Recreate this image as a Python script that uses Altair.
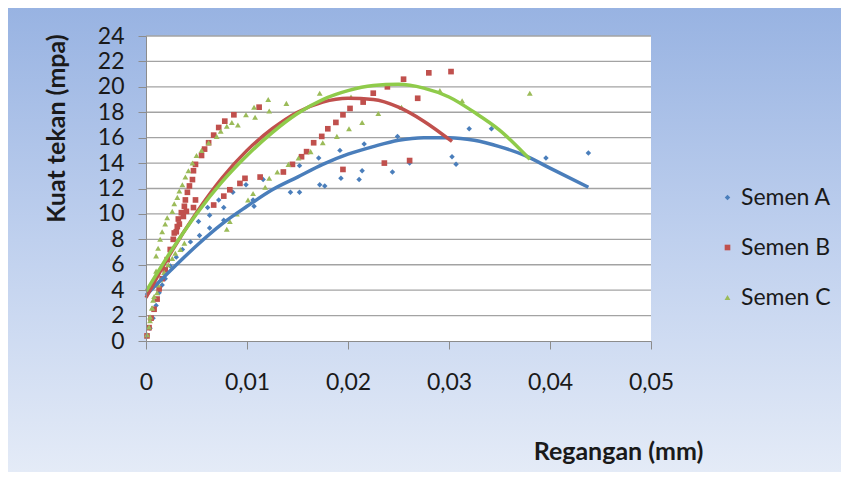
import altair as alt
import pandas as pd

series_names = ["Semen A", "Semen B", "Semen C"]
point_colors = ["#4A7EBB", "#C0504D", "#9BBB59"]
line_colors = ["#4A7EBB", "#C0504D", "#8FCB4A"]
shapes = ["diamond", "square", "triangle-up"]

# Semen A (strain, stress)
a_x = [0.0001, 0.0004, 0.0007, 0.0010, 0.0013, 0.0016, 0.0019, 0.0024, 0.0030,
       0.0036, 0.0044, 0.0052, 0.0053, 0.0061, 0.0063, 0.0063, 0.0072, 0.0077,
       0.0077, 0.0086, 0.0099, 0.0106, 0.0107, 0.0116, 0.0143, 0.0152, 0.0152,
       0.0171, 0.0172, 0.0177, 0.0192, 0.0193, 0.0211, 0.0214, 0.0216, 0.0244,
       0.0249, 0.0261, 0.0303, 0.0307, 0.0320, 0.0342, 0.0396, 0.0438]
a_y = [0.4, 1.0, 1.8, 2.8, 3.8, 4.4, 4.9, 5.9, 6.6,
       7.2, 7.8, 9.4, 8.3, 10.5, 9.9, 8.9, 11.1, 10.5,
       9.5, 11.7, 12.3, 11.1, 10.6, 12.7, 11.7, 11.7, 13.8,
       14.4, 12.3, 12.2, 15.0, 12.8, 12.7, 13.4, 15.5, 13.3,
       16.1, 14.0, 14.5, 13.9, 16.7, 16.7, 14.4, 14.8]

# Semen B
b_x = [0.0001, 0.0003, 0.0005, 0.0008, 0.0011, 0.0013, 0.0016, 0.0019, 0.0021,
       0.0024, 0.0027, 0.0028, 0.0031, 0.0032, 0.0035, 0.0038, 0.0039, 0.0041,
       0.0043, 0.0046, 0.0047, 0.0049, 0.0055, 0.0058, 0.0062, 0.0067, 0.0072,
       0.0078, 0.0087, 0.0112,
       0.0030, 0.0033, 0.0037, 0.0040, 0.0047, 0.0049, 0.0067, 0.0077, 0.0083,
       0.0093, 0.0098, 0.0113, 0.0136, 0.0145, 0.0154, 0.0159, 0.0166, 0.0174,
       0.0180, 0.0188, 0.0195, 0.0202, 0.0215, 0.0225, 0.0239, 0.0255, 0.0280,
       0.0302, 0.0269, 0.0261, 0.0236, 0.0195]
b_y = [0.4, 1.05, 1.8, 2.5, 3.3, 4.1, 4.9, 5.6, 6.4,
       7.2, 8.0, 8.5, 9.0, 9.6, 10.1, 10.6, 11.1, 11.7,
       12.2, 12.7, 13.4, 13.9, 14.6, 15.1, 15.6, 16.2, 16.8,
       17.3, 17.8, 18.4,
       8.6, 9.2, 9.8, 10.2, 10.5, 11.1, 10.7, 11.4, 11.9,
       12.4, 12.8, 12.9, 13.3, 13.9, 14.5, 14.9, 15.6, 16.1,
       16.7, 17.2, 17.8, 18.3, 18.8, 19.5, 20.0, 20.6, 21.1,
       21.2, 19.1, 14.2, 14.0, 13.5]

# Semen C
c_x = [0.0001, 0.0003, 0.0004, 0.0006, 0.0007, 0.0011, 0.0012, 0.0014, 0.0018,
       0.0022, 0.0026, 0.0029, 0.0034, 0.0038, 0.0080, 0.0083,
       0.0004, 0.0006, 0.0008, 0.0009, 0.0010, 0.0010, 0.0012, 0.0014, 0.0016,
       0.0019, 0.0021, 0.0026, 0.0028, 0.0031, 0.0033, 0.0036, 0.0039, 0.0042,
       0.0046, 0.0050, 0.0055, 0.0062, 0.0070, 0.0074, 0.0080, 0.0085, 0.0091,
       0.0099, 0.0107, 0.0108, 0.0121, 0.0122, 0.0139, 0.0172, 0.0203,
       0.0090, 0.0101, 0.0106, 0.0118, 0.0122, 0.0130, 0.0141, 0.0151, 0.0163,
       0.0175, 0.0189, 0.0201, 0.0214, 0.0230, 0.0253, 0.0291, 0.0313, 0.0380]
c_y = [0.5, 1.1, 1.9, 2.6, 3.2, 3.8, 4.4, 4.8, 5.4,
       6.0, 6.5, 6.9, 7.2, 7.7, 8.8, 9.4,
       1.6, 2.6, 3.5, 4.5, 5.5, 6.7, 7.3, 8.0, 8.6,
       9.2, 9.7, 10.2, 10.8, 11.3, 11.8, 12.3, 12.9, 13.4,
       14.0, 14.6, 15.0, 15.6, 16.1, 16.5, 16.9, 17.2, 17.0,
       17.8, 18.4, 17.6, 19.0, 18.1, 18.7, 19.5, 19.2,
       10.0, 11.1, 11.6, 12.1, 12.8, 13.3, 13.9, 14.4, 14.9,
       15.6, 16.1, 16.7, 17.2, 17.9, 18.4, 19.7, 18.9, 19.5]

# Trendline curves
a_line_x = [0, 0.0025, 0.005, 0.0075, 0.01, 0.0125, 0.015, 0.0175, 0.02, 0.0225,
            0.025, 0.0275, 0.03, 0.0325, 0.035, 0.0375, 0.04, 0.0438]
a_line_y = [3.6, 5.6, 7.5, 9.2, 10.6, 11.9, 12.9, 13.9, 14.7, 15.3,
            15.8, 16.0, 16.0, 15.8, 15.3, 14.6, 13.6, 12.1]
b_line_x = [0, 0.0025, 0.005, 0.0075, 0.01, 0.0125, 0.015, 0.0175, 0.02, 0.0225,
            0.025, 0.0275, 0.0303]
b_line_y = [3.4, 7.0, 10.1, 12.8, 15.0, 16.7, 18.0, 18.8, 19.1, 19.0,
            18.4, 17.3, 15.7]
c_line_x = [0, 0.0025, 0.005, 0.0075, 0.01, 0.0125, 0.015, 0.0175, 0.02, 0.0225,
            0.025, 0.0275, 0.03, 0.0325, 0.035, 0.038]
c_line_y = [3.9, 7.1, 10.0, 12.5, 14.6, 16.4, 17.9, 19.0, 19.7, 20.1,
            20.2, 19.9, 19.2, 18.0, 16.6, 14.3]

x_ticks = [0, 0.01, 0.02, 0.03, 0.04, 0.05]
x_tick_labels = ["0", "0,01", "0,02", "0,03", "0,04", "0,05"]
y_ticks = [0, 2, 4, 6, 8, 10, 12, 14, 16, 18, 20, 22, 24]

W, H = 505, 305
FONT = "Lato"
TXT = "#1A1A1A"
AX = "#8C8C8C"

pts = pd.concat([
    pd.DataFrame({"x": a_x, "y": a_y, "series": series_names[0]}),
    pd.DataFrame({"x": b_x, "y": b_y, "series": series_names[1]}),
    pd.DataFrame({"x": c_x, "y": c_y, "series": series_names[2]}),
], ignore_index=True)

lines_data = [(a_line_x, a_line_y), (b_line_x, b_line_y), (c_line_x, c_line_y)]

label_expr = "[" + ",".join("'%s'" % s for s in x_tick_labels) + "][round(datum.value*100)]"

x_scale = alt.Scale(domain=[0, 0.05], nice=False)
y_scale = alt.Scale(domain=[0, 24], nice=False)

x_axis = alt.Axis(values=x_ticks, labelExpr=label_expr, grid=False,
                  domainColor=AX, tickColor=AX, tickSize=8, labelPadding=22,
                  labelFont=FONT, labelFontSize=23, labelColor=TXT, labelFlush=False,
                  title="Regangan (mm)", titleFont=FONT, titleFontSize=25,
                  titleFontWeight="bold", titleColor=TXT, titleX=472, titleY=110,
                  titleAlign="center", titleBaseline="middle", zindex=1)
y_axis = alt.Axis(values=y_ticks, grid=False, domainColor=AX, tickColor=AX,
                  tickSize=8, labelPadding=14, labelFont=FONT, labelFontSize=23,
                  labelColor=TXT, labelFlush=False,
                  title="Kuat tekan (mpa)", titleFont=FONT, titleFontSize=25,
                  titleFontWeight="bold", titleColor=TXT, titleX=-90, titleY=92,
                  titleAngle=270, titleAlign="center", titleBaseline="middle",
                  zindex=1)

def xe():
    return alt.X("x:Q", scale=x_scale, axis=x_axis)

def ye():
    return alt.Y("y:Q", scale=y_scale, axis=y_axis)

one = alt.Data(values=[{"k": 1}])

bg = alt.Chart(one).mark_rect(
    fill=alt.LinearGradient(
        gradient="linear", x1=0, y1=0, x2=0, y2=1,
        stops=[alt.GradientStop(offset=0, color="#98B3E2"),
               alt.GradientStop(offset=0.5, color="#BFD0EE"),
               alt.GradientStop(offset=1, color="#E4EBF7")]),
    strokeWidth=0,
).encode(x=alt.value(-138), x2=alt.value(695), y=alt.value(-28), y2=alt.value(436))

plot_bg = alt.Chart(one).mark_rect(fill="white", strokeWidth=0).encode(
    x=alt.value(0), x2=alt.value(W), y=alt.value(0), y2=alt.value(H))

grid = alt.Chart(pd.DataFrame({"y": y_ticks[1:]})).mark_rule(
    color="#A3A3A3", strokeWidth=1.3).encode(
    y=ye(), x=alt.value(0), x2=alt.value(W))

legend = alt.Legend(title=None, orient="none", legendX=570, legendY=150,
                    labelFont=FONT, labelFontSize=23, labelColor=TXT,
                    symbolSize=40, rowPadding=26, labelOffset=2, padding=0,
                    symbolStrokeWidth=0)

points = alt.Chart(pts).mark_point(filled=True, opacity=1, strokeWidth=0).encode(
    x=xe(), y=ye(),
    color=alt.Color("series:N", scale=alt.Scale(domain=series_names, range=point_colors),
                    legend=legend),
    shape=alt.Shape("series:N", scale=alt.Scale(domain=series_names, range=shapes),
                    legend=legend),
    size=alt.Size("series:N", scale=alt.Scale(domain=series_names, range=[30, 34, 40]),
                  legend=None),
)

line_layers = []
for (lx, ly), col in zip(lines_data, line_colors):
    line_layers.append(
        alt.Chart(pd.DataFrame({"x": lx, "y": ly})).mark_line(
            color=col, strokeWidth=3.5, interpolate="monotone").encode(x=xe(), y=ye())
    )

chart = alt.layer(bg, plot_bg, grid, points, *line_layers).properties(
    width=W, height=H,
    autosize=alt.AutoSizeParams(type="none"),
    padding={"left": 138, "top": 28, "right": 190, "bottom": 136},
).configure_view(stroke=None)

chart.save("out.html", embed_options={"renderer": "svg", "actions": False})
